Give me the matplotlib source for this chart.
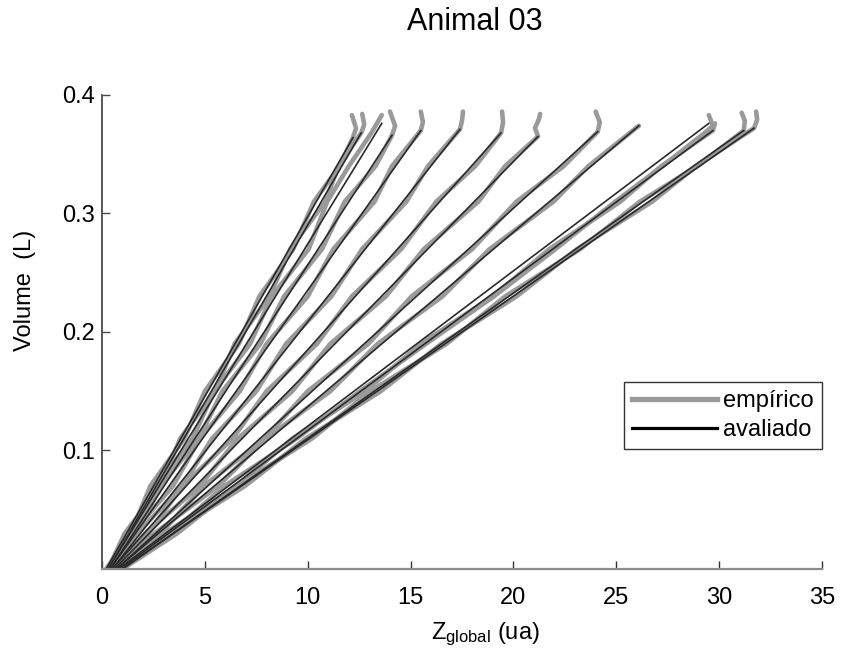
import matplotlib
matplotlib.use("Agg")
import matplotlib.pyplot as plt
from matplotlib.lines import Line2D

plt.rcParams['font.family'] = ['Liberation Sans', 'DejaVu Sans']
plt.rcParams['mathtext.fontset'] = 'custom'
plt.rcParams['mathtext.rm'] = 'Liberation Sans'
plt.rcParams['mathtext.it'] = 'Liberation Sans'

#####################
# Data
#####################

# avaliado: straight fits, start on the x axis, end near the top
aval_x0 = [0.2, 0.3, 0.3, 0.4, 0.4, 0.5, 0.5, 0.6, 0.7, 0.7, 0.8, 0.9, 1.0, 1.0]
aval_x1 = [12.2, 12.6, 13.6, 14.1, 15.5, 17.4, 19.4, 21.2, 24.1, 26.1, 29.5, 29.7, 31.2, 31.7]
aval_y1 = [0.364, 0.368, 0.376, 0.366, 0.370, 0.371, 0.368, 0.365, 0.369, 0.374, 0.376, 0.370, 0.370, 0.372]

# empirico: x of each measured curve at these volumes
y_levels = [0.0, 0.03, 0.07, 0.11, 0.15, 0.19, 0.23, 0.27, 0.31, 0.34]
emp_x = [
    [0.2, 1.40, 2.35, 4.00, 5.00, 6.65, 7.65, 9.30, 10.30, 11.55],
    [0.3, 1.10, 2.85, 3.80, 5.50, 6.45, 8.15, 9.15, 10.85, 11.50],
    [0.3, 1.55, 2.60, 4.40, 5.45, 7.20, 8.25, 10.05, 10.95, 12.00],
    [0.4, 1.70, 2.85, 4.70, 5.85, 7.70, 8.85, 10.70, 11.80, 13.30],
    [0.4, 1.45, 3.45, 4.75, 6.70, 8.00, 10.00, 11.25, 13.25, 14.10],
    [0.5, 1.70, 3.90, 5.35, 7.50, 8.95, 11.15, 12.65, 14.80, 15.85],
    [0.5, 2.25, 3.90, 6.35, 8.00, 10.45, 12.15, 14.55, 16.25, 18.15],
    [0.6, 2.10, 4.75, 6.60, 9.25, 11.10, 13.80, 15.65, 18.30, 19.60],
    [0.7, 2.85, 4.95, 7.90, 10.00, 12.95, 15.05, 18.00, 20.15, 22.45],
    [0.7, 2.55, 5.65, 7.95, 11.10, 13.40, 16.55, 18.85, 21.95, 23.65],
    [0.8, 3.35, 5.95, 9.45, 12.55, 15.75, 19.05, 22.05, 24.95, 27.25],
    [0.9, 3.05, 6.55, 9.25, 12.80, 15.50, 19.00, 21.75, 25.20, 27.20],
    [1.0, 3.65, 6.55, 10.20, 13.05, 16.75, 19.60, 23.25, 26.15, 28.95],
    [1.0, 3.30, 6.95, 9.90, 13.55, 16.50, 20.15, 23.10, 26.75, 28.90],
]
# top of each empirico curve (kink + hook)
emp_top_x = [
    [12.2, 12.35, 12.15],
    [12.6, 12.75, 12.65],
    [13.1, 13.6],
    [14.1, 14.25, 14.0],
    [15.5, 15.6, 15.5],
    [17.4, 17.5, 17.55],
    [19.4, 19.5, 19.45],
    [21.2, 21.05, 21.25, 21.3],
    [24.1, 24.2, 24.0],
    [26.1],
    [29.3, 29.7, 29.5],
    [29.7, 29.8],
    [31.2, 31.25, 31.1],
    [31.7, 31.85, 31.8],
]
emp_top_y = [
    [0.364, 0.372, 0.383],
    [0.368, 0.375, 0.384],
    [0.368, 0.383],
    [0.366, 0.374, 0.386],
    [0.370, 0.377, 0.386],
    [0.371, 0.378, 0.386],
    [0.368, 0.377, 0.386],
    [0.365, 0.372, 0.380, 0.384],
    [0.369, 0.377, 0.386],
    [0.374],
    [0.368, 0.374, 0.383],
    [0.370, 0.376],
    [0.370, 0.378, 0.385],
    [0.372, 0.379, 0.386],
]

x_ticks = [0, 5, 10, 15, 20, 25, 30, 35]
y_ticks = [0.1, 0.2, 0.3, 0.4]

#####################
# Plot
#####################
gray = '#9a9a9a'
dark = '#2a2a2a'

fig = plt.figure(figsize=(8.43, 6.59), dpi=100)
ax = fig.add_axes([0.121, 0.1366, 0.854, 0.7193])

for i in range(len(emp_x)):
    ax.plot(emp_x[i] + emp_top_x[i], y_levels + emp_top_y[i], color=gray, lw=3.3,
            solid_joinstyle='round', solid_capstyle='round')

for i in range(len(aval_x0)):
    ax.plot([aval_x0[i], aval_x1[i]], [0, aval_y1[i]], color=dark, lw=1.2)

ax.set_xlim(0, 35)
ax.set_ylim(0, 0.4)
ax.set_xticks(x_ticks)
ax.set_yticks(y_ticks)
ax.set_xticklabels([str(t) for t in x_ticks])
ax.set_yticklabels(['0.1', '0.2', '0.3', '0.4'])

for s in ['top', 'right']:
    ax.spines[s].set_visible(False)
ax.spines['left'].set_color('#4a4a4a')
ax.spines['left'].set_linewidth(1.3)
ax.spines['bottom'].set_color('#8c8c8c')
ax.spines['bottom'].set_linewidth(1.6)

ax.tick_params(axis='y', direction='in', length=6, width=1.0, color='#4a4a4a',
               labelsize=17, pad=5)
ax.tick_params(axis='x', direction='in', length=6, width=1.0, color='#333333',
               labelsize=17, pad=13)

ax.set_ylabel('Volume  (L)', fontsize=17)
ax.yaxis.set_label_coords(-0.092, 0.587)
ax.set_xlabel(r'Z$_{\mathrm{global}}$ (ua)', fontsize=17)
ax.xaxis.set_label_coords(0.533, -0.108)

ax.text(0.518, 1.154, 'Animal 03', transform=ax.transAxes, ha='center', va='center',
        fontsize=22)

handles = [Line2D([], [], color=gray, lw=3.8), Line2D([], [], color='black', lw=2.3)]
leg = ax.legend(handles, ['empírico', 'avaliado'], loc='upper right',
                bbox_to_anchor=(1.0, 0.395), borderaxespad=0, fontsize=17,
                fancybox=False, framealpha=1, edgecolor='#333333',
                handlelength=3.6, handletextpad=0.25, borderpad=0.35, labelspacing=0.3)
leg.get_frame().set_linewidth(1.0)

fig.savefig('out.png', dpi=100)
